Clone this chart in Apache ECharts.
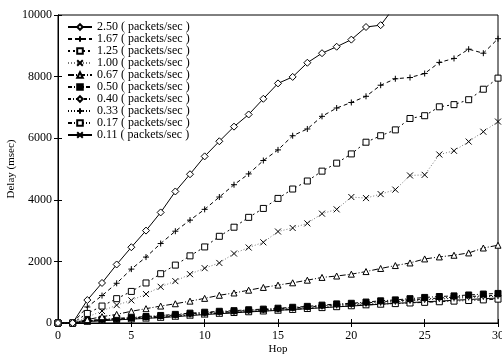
<!DOCTYPE html>
<html>
<head>
<meta charset="utf-8">
<script src="https://cdn.jsdelivr.net/npm/echarts@6/dist/echarts.min.js"></script>
<style>
  html, body { margin: 0; padding: 0; background: #fff; }
  #chart { width: 502px; height: 354px; }
</style>
</head>
<body>
<div id="chart"></div>
<script>
const hops = [0,1,2,3,4,5,6,7,8,9,10,11,12,13,14,15,16,17,18,19,20,21,22,23,24,25,26,27,28,29,30]

const rate250 = [0,0,745,1300,1900,2460,3000,3590,4270,4830,5410,5900,6375,6770,7280,7780,7990,8450,8760,8970,9200,9610,9670,10300]
const rate167 = [0,0,520,890,1290,1750,2140,2580,2980,3340,3690,4090,4490,4840,5275,5620,6080,6300,6710,6980,7160,7360,7720,7930,7970,8100,8460,8590,8890,8760,9230]
const rate125 = [0,0,310,550,790,1025,1300,1600,1880,2180,2470,2815,3110,3430,3720,4045,4350,4610,4930,5190,5490,5870,6080,6270,6640,6730,7020,7090,7250,7590,7950]
const rate100 = [0,0,190,390,580,735,940,1175,1360,1585,1780,1950,2255,2450,2620,2970,3085,3235,3550,3690,4090,4055,4185,4330,4790,4810,5470,5590,5890,6210,6540]
const rate067 = [0,0,110,205,280,380,465,550,625,710,800,900,975,1065,1155,1230,1305,1390,1480,1525,1585,1670,1770,1865,1950,2080,2145,2200,2275,2435,2525]
const rate050 = [0,0,80,120,150,180,210,245,280,320,350,380,400,430,450,480,510,540,580,620,640,680,720,750,790,830,860,880,910,940,960]
const rate040 = [0,0,70,105,135,165,195,225,260,295,325,355,380,405,430,455,490,520,555,595,615,650,690,720,750,780,810,840,860,880,900]
const rate033 = [0,0,60,95,125,150,180,210,240,275,305,335,360,390,415,440,470,500,535,570,590,625,660,690,720,750,780,800,830,850,870]
const rate017 = [0,0,55,85,110,135,160,185,220,255,290,315,340,365,390,415,440,470,500,530,560,590,610,630,650,670,690,710,730,750,775]
const rate011 = [0,0,45,75,100,125,150,175,205,240,275,300,330,360,385,410,440,465,495,525,550,580,610,640,660,690,710,740,760,790,810]

const seriesNames = [
  '2.50 ( packets/sec )', '1.67 ( packets/sec )', '1.25 ( packets/sec )', '1.00 ( packets/sec )',
  '0.67 ( packets/sec )', '0.50 ( packets/sec )', '0.40 ( packets/sec )', '0.33 ( packets/sec )',
  '0.17 ( packets/sec )', '0.11 ( packets/sec )'
]
const seriesValues = [rate250, rate167, rate125, rate100, rate067, rate050, rate040, rate033, rate017, rate011]

const yTicks = [0, 2000, 4000, 6000, 8000, 10000]

const PLUS = 'path://M0,5L10,5M5,0L5,10'
const CROSS = 'path://M0,0L10,10M10,0L0,10'

// marker, hollow or filled, dash pattern, line colour
const styles = [
  { symbol: 'diamond', hollow: true, dash: 'solid', color: '#000', size: 7 },
  { symbol: PLUS, hollow: false, dash: [4, 3], color: '#000', size: 6 },
  { symbol: 'rect', hollow: true, dash: [2, 3], color: '#000', size: 6 },
  { symbol: CROSS, hollow: false, dash: [1, 2], color: '#777', size: 6 },
  { symbol: 'triangle', hollow: true, dash: [6, 2, 1, 2], color: '#000', size: 6 },
  { symbol: 'rect', hollow: false, dash: [4, 2, 1, 2], color: '#000', size: 6 },
  { symbol: 'diamond', hollow: true, dash: [3, 2, 1, 2], color: '#000', size: 6 },
  { symbol: PLUS, hollow: false, dash: [1, 2], color: '#000', size: 6 },
  { symbol: 'rect', hollow: true, dash: [4, 2, 1, 2, 1, 2], color: '#000', size: 6 },
  { symbol: CROSS, hollow: false, dash: 'solid', color: '#000', size: 6 }
]

const chart = echarts.init(document.getElementById('chart'))

const font = 'Liberation Serif'

const series = seriesNames.map((name, i) => {
  const s = styles[i]
  return {
    name: name,
    type: 'line',
    clip: true,
    symbol: s.symbol,
    symbolSize: s.size,
    showAllSymbol: true,
    lineStyle: { color: s.color, width: 1, type: s.dash },
    itemStyle: {
      color: s.hollow ? '#fff' : '#000',
      borderColor: '#000',
      borderWidth: 1
    },
    emphasis: { disabled: true },
    z: 10 - i,
    data: seriesValues[i].map((v, j) => [hops[j], v])
  }
})

const option = {
  animation: false,
  grid: {
    left: 58, right: 4, top: 15, bottom: 31,
    containLabel: false, outerBoundsMode: 'none',
    show: true, borderColor: '#000', borderWidth: 1
  },
  legend: {
    orient: 'vertical',
    left: 62, top: 16,
    itemWidth: 24, itemHeight: 7, itemGap: 0,
    textStyle: { fontFamily: font, fontSize: 12, color: '#000', lineHeight: 12 },
    data: seriesNames
  },
  xAxis: [
    {
      type: 'value', min: 0, max: 30, interval: 5,
      name: 'Hop', nameLocation: 'middle', nameGap: 21, nameMoveOverlap: false,
      nameTextStyle: { fontFamily: font, fontSize: 11, color: '#000' },
      axisLine: { lineStyle: { color: '#000' } },
      axisTick: { inside: true, length: 4, lineStyle: { color: '#000' } },
      axisLabel: { fontFamily: font, fontSize: 12, color: '#000', margin: 7 },
      splitLine: { show: false }
    },
    {
      type: 'value', min: 0, max: 30, interval: 5, position: 'top',
      axisLine: { lineStyle: { color: '#000' } },
      axisTick: { inside: true, length: 4, lineStyle: { color: '#000' } },
      axisLabel: { show: false },
      splitLine: { show: false }
    }
  ],
  yAxis: [
    {
      type: 'value', min: yTicks[0], max: yTicks[yTicks.length - 1], interval: 2000,
      name: 'Delay (msec)', nameLocation: 'middle', nameGap: 41, nameMoveOverlap: false,
      nameTextStyle: { fontFamily: font, fontSize: 11, color: '#000' },
      axisLine: { show: true, lineStyle: { color: '#000' } },
      axisTick: { show: true, inside: true, length: 4, lineStyle: { color: '#000' } },
      axisLabel: { fontFamily: font, fontSize: 12, color: '#000', margin: 6, formatter: v => String(v) },
      splitLine: { show: false }
    },
    {
      type: 'value', min: yTicks[0], max: yTicks[yTicks.length - 1], interval: 2000, position: 'right',
      axisLine: { show: true, lineStyle: { color: '#000' } },
      axisTick: { show: true, inside: true, length: 4, lineStyle: { color: '#000' } },
      axisLabel: { show: false },
      splitLine: { show: false }
    }
  ],
  series: series
}

chart.setOption(option)

window.addEventListener('resize', () => chart.resize())
</script>
</body>
</html>
